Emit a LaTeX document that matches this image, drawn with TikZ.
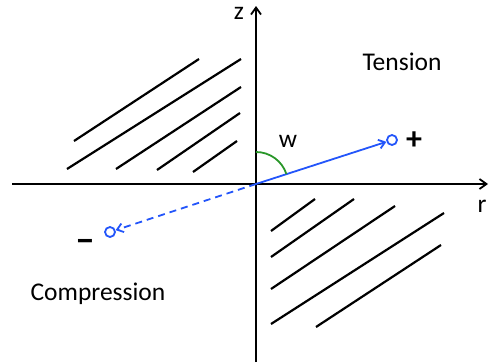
\documentclass[tikz,border=0pt]{standalone}
\usepackage{fontspec}
\setmainfont{Carlito}
\usetikzlibrary{arrows.meta}
\definecolor{vecblue}{RGB}{35,85,250}
\definecolor{arcgreen}{RGB}{40,150,40}
\begin{document}
\begin{tikzpicture}[x=1pt,y=-1pt,font=\fontsize{25.5}{28}\selectfont,
axis/.style={line width=1.8pt,-{Straight Barb[length=7pt,width=10pt]}},
hatch/.style={line width=2.2pt},
endpt/.style={circle,draw=vecblue,line width=1.8pt,inner sep=0pt,minimum size=10pt},
sign/.style={font=\fontsize{32}{34}\selectfont\bfseries}]
\useasboundingbox (0,0) rectangle (490,364);
\coordinate (o) at (256,184);
\coordinate (rl) at (12,184);\coordinate (rr) at (488,184);
\coordinate (zb) at (256,362);\coordinate (zt) at (256,6);
\draw[axis] (rl)--(rr);\draw[axis] (zb)--(zt);
\node (zlab) at (239,13){z};\node (rlab) at (482,206){r};
% hatching, upper left and lower right
\foreach \xa/\ya/\xb/\yb in {74/141/199/59,67/169/241/59,116/169/241/87,157/170/240/113,193/172/237/141,
271/231/315/199,271/257/354/199,271/289/395/206,271/324/444/213,316/327/441/245}{
\draw[hatch] (\xa,\ya)--(\xb,\yb);}
\node[endpt] (plus) at (392,140){};\node[endpt] (minus) at (110,232){};
\draw[vecblue,line width=1.8pt,-{Straight Barb[length=6pt,width=9pt]}] (o)--(plus);
\draw[vecblue,line width=1.8pt,dash pattern=on 7pt off 5pt,-{Straight Barb[length=6pt,width=9pt]}] (o)--(minus);
\draw[arcgreen,line width=1.8pt] (o) ++(0,-32) arc[start angle=-90,end angle=-18,radius=32];
\node (wlab) at (288,141){w};
\node[sign] (plab) at (414,141){+};
\node[sign,font=\fontsize{36}{38}\selectfont\bfseries] (mlab) at (85,246){−};
\node (tens) at (402,62){Tension};
\node (comp) at (98,294){Compression};
\end{tikzpicture}
\end{document}
